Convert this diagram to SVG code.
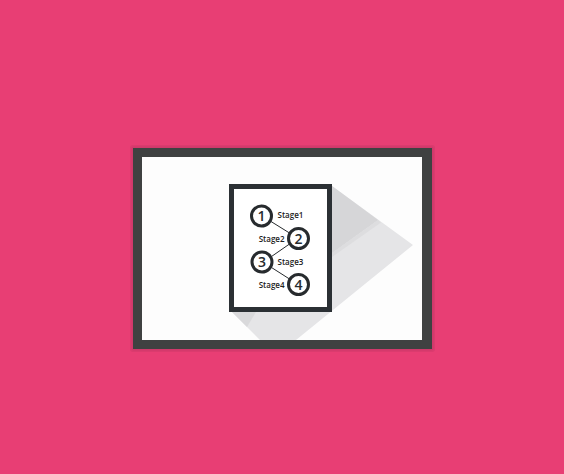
<svg xmlns="http://www.w3.org/2000/svg" width="564" height="474" viewBox="0 0 564 474">
<style>
.node circle{fill:#ffffff;stroke:#272b2e;stroke-width:3}
.num{font-family:"Open Sans","DejaVu Sans",sans-serif;font-size:14px;font-weight:600;fill:#272b2e;text-anchor:middle}
.lbl{font-family:"Open Sans","DejaVu Sans",sans-serif;font-size:8px;font-weight:600;fill:#222222}
.conn line{stroke:#272b2e;stroke-width:1}
</style>
<rect width="564" height="474" fill="#e83e74"/>
<g id="frame">
<rect x="130" y="145" width="305" height="207" rx="3" fill="#db3b6e"/>
<rect x="131.5" y="146.5" width="302" height="204" rx="2" fill="#cf396b"/>
<rect x="133" y="148" width="299" height="201" fill="#3f4141"/>
<rect x="142" y="157" width="280" height="183" fill="#fdfdfd"/>
</g>
<g id="shadow">
<polygon points="332,186 413,245 296,340 260,340 232,312 332,312" fill="#e5e5e7"/>
<polygon points="332,186 378,220 332,253" fill="#d6d6d8"/>
<polygon points="378,220 381,222.5 332,257 332,253" fill="#dddddf"/>
<polygon points="232,312 256,312 247,327" fill="#d9d9db"/>
</g>
<g id="document">
<rect x="231.5" y="186.5" width="98" height="123" fill="#ffffff" stroke="#2b3034" stroke-width="5"/>
</g>
<g id="connectors" class="conn">
<line x1="271" y1="221.5" x2="289.5" y2="233"/>
<line x1="289.5" y1="244" x2="271.5" y2="256.5"/>
<line x1="271.5" y1="267.5" x2="289.5" y2="279"/>
</g>
<g id="node1" class="node">
<circle cx="261.5" cy="216" r="10"/>
<text class="num" x="261.5" y="221">1</text>
<text class="lbl" x="277.5" y="218">Stage1</text>
</g>
<g id="node2" class="node">
<circle cx="298.5" cy="238.5" r="10"/>
<text class="num" x="298.5" y="243.5">2</text>
<text class="lbl" x="284.5" y="241.5" text-anchor="end">Stage2</text>
</g>
<g id="node3" class="node">
<circle cx="262" cy="262" r="10"/>
<text class="num" x="262" y="267">3</text>
<text class="lbl" x="277.5" y="265">Stage3</text>
</g>
<g id="node4" class="node">
<circle cx="298.5" cy="284.5" r="10"/>
<text class="num" x="298.5" y="289.5">4</text>
<text class="lbl" x="284.5" y="287.5" text-anchor="end">Stage4</text>
</g>
</svg>
